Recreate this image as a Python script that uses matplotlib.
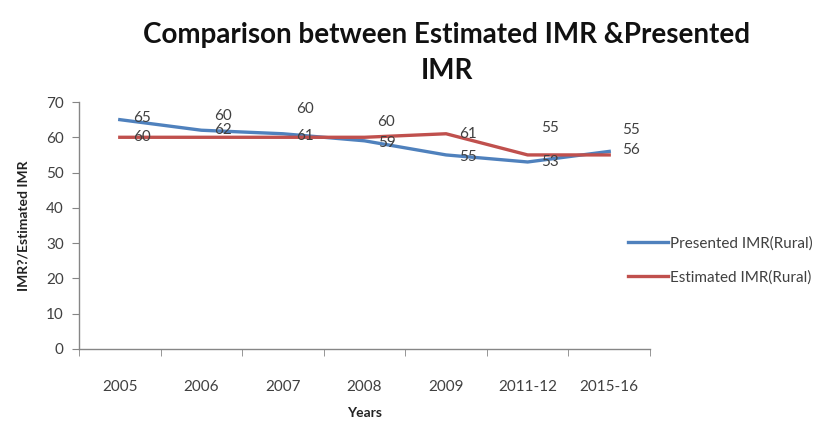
import matplotlib.pyplot as plt
import numpy as np

plt.rcParams['font.family'] = ['Lato', 'DejaVu Sans']

# IMR values per survey period
years = ["2005", "2006", "2007", "2008", "2009", "2011-12", "2015-16"]
presented_imr = [65, 62, 61, 59, 55, 53, 56]
estimated_imr = [60, 60, 60, 60, 61, 55, 55]

# vertical nudges (pixels) for the data labels, as laid out in the sheet
presented_lift = [2, 0, -2, -2, -2, 0, 1]
estimated_lift = [0, 21, 28, 15, 0, 27, 25]

blue = "#4F81BD"
red = "#C0504D"
text_col = "#404040"

fig = plt.figure(figsize=(8.25, 4.21), dpi=100)
ax = fig.add_axes([79 / 825, 1 - 349 / 421, (650 - 79) / 825, (349 - 102) / 421])

x = np.arange(len(years))
ax.plot(x, presented_imr, color=blue, lw=2.4, label="Presented IMR(Rural)",
        solid_joinstyle="round")
ax.plot(x, estimated_imr, color=red, lw=2.4, label="Estimated IMR(Rural)",
        solid_joinstyle="round")

px = 0.72  # points per pixel at 100 dpi
for xi, v, dy in zip(x, presented_imr, presented_lift):
    ax.annotate(str(v), (xi, v), xytext=(22 * px, dy * px), textcoords="offset points",
                ha="center", va="center", fontsize=11, color=text_col)
for xi, v, dy in zip(x, estimated_imr, estimated_lift):
    ax.annotate(str(v), (xi, v), xytext=(22 * px, dy * px), textcoords="offset points",
                ha="center", va="center", fontsize=11, color=text_col)

ax.set_xlim(-0.5, len(years) - 0.5)
ax.set_ylim(0, 70)
ax.set_yticks(range(0, 71, 10))
ax.set_xticks(x)
ax.set_xticklabels(years)
ax.set_xticks(np.arange(-0.5, len(years)), minor=True)

for side in ("top", "right"):
    ax.spines[side].set_visible(False)
for side in ("left", "bottom"):
    ax.spines[side].set_color("#868686")
    ax.spines[side].set_linewidth(1.0)

ax.tick_params(axis="x", which="major", length=0, pad=22, labelsize=11, labelcolor=text_col)
ax.tick_params(axis="x", which="minor", length=5, color="#868686", direction="out")
ax.tick_params(axis="y", length=5, color="#868686", pad=6, labelsize=11, labelcolor=text_col)

ax.set_xlabel("Years", fontsize=10, fontweight="bold", color="#222222", labelpad=10)
ax.set_ylabel("IMR?/Estimated IMR", fontsize=10, fontweight="bold", color="#222222", labelpad=12)

fig.text(447 / 825, 1 - 53 / 421, "Comparison between Estimated IMR &Presented\nIMR",
         ha="center", va="center", fontsize=20, fontweight="bold", color="#111111",
         linespacing=1.5)

fig.legend(loc="upper left", bbox_to_anchor=(628 / 825, 1 - 236 / 421), frameon=False,
           fontsize=11, handlelength=2.6, handletextpad=0.15, labelspacing=1.3,
           borderpad=0, borderaxespad=0, labelcolor=text_col)

fig.savefig("out.png", dpi=100)
